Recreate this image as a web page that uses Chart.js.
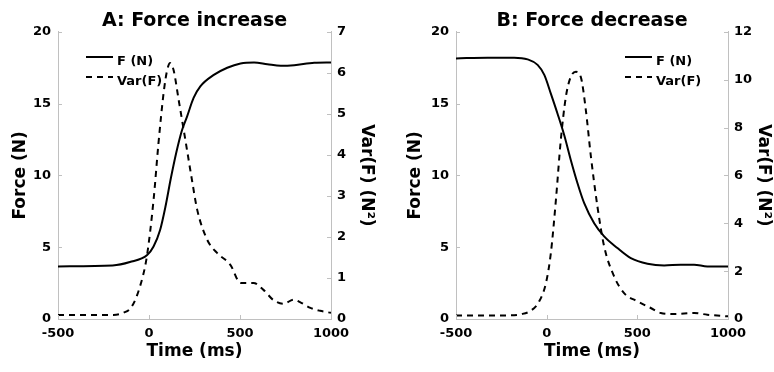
<!DOCTYPE html>
<html>
<head>
<meta charset="utf-8">
<script src="https://cdn.jsdelivr.net/npm/chart.js@4"></script>
<style>
    body { margin: 0; background: #fff; }
    .panel { position: absolute; top: 0; width: 387px; height: 372px; }
</style>
</head>
<body>
<div class="panel" style="left:0"><canvas id="chartA" width="387" height="372"></canvas></div>
<div class="panel" style="left:387px"><canvas id="chartB" width="387" height="372"></canvas></div>
<script>
// A: force increase
const timeA_force = [-500, -200, -105, -10, 25, 61, 90, 120, 150, 180, 209, 245, 282, 356, 430, 503, 577, 650, 724, 798, 908, 1000];
const forceA = [3.66, 3.73, 3.97, 4.46, 5.05, 6.2, 7.8, 9.8, 11.6, 13.1, 14.1, 15.4, 16.2, 17.0, 17.5, 17.8, 17.87, 17.75, 17.64, 17.68, 17.85, 17.87];
const timeA_var = [-500, -196, -141, -95, -49, -12, 25, 52, 80, 98, 116, 135, 163, 200, 236, 265, 320, 374, 447, 503, 574, 629, 684, 739, 794, 834, 887, 940, 1000];
const varA = [0.1, 0.1, 0.15, 0.3, 0.8, 1.52, 2.9, 4.28, 5.5, 6.03, 6.24, 6.07, 5.34, 4.36, 3.39, 2.66, 1.93, 1.61, 1.32, 0.88, 0.88, 0.71, 0.46, 0.37, 0.47, 0.4, 0.27, 0.2, 0.15];

// B: force decrease
const timeB_force = [-500, -326, -179, -105, -50, -13, 23, 60, 97, 133, 170, 207, 262, 317, 390, 464, 556, 648, 739, 813, 886, 1000];
const forceB = [18.15, 18.2, 18.2, 18.08, 17.7, 17.0, 15.7, 14.3, 12.8, 11.08, 9.46, 8.07, 6.67, 5.75, 4.94, 4.24, 3.85, 3.73, 3.78, 3.78, 3.66, 3.66];
const timeB_var = [-500, -215, -142, -87, -41, -4, 23, 51, 78, 106, 133, 161, 188, 216, 244, 280, 317, 372, 427, 501, 574, 629, 703, 813, 886, 1000];
const varB = [0.15, 0.15, 0.2, 0.35, 0.74, 1.5, 2.75, 4.98, 7.48, 9.29, 10.12, 10.33, 10.12, 8.73, 6.79, 4.7, 3.03, 1.78, 1.08, 0.74, 0.46, 0.25, 0.21, 0.25, 0.18, 0.11];

const xTicks = [-500, 0, 500, 1000];
const legendLabels = ['F (N)', 'Var(F)'];

const FONT = 'DejaVu Sans';
const AXIS_GRAY = '#c0c0c0';

function toPoints(xs, ys) {
    return xs.map((x, i) => ({ x: x, y: ys[i] }));
}

// MATLAB style ticks pointing into the plot
const inwardTicks = {
    id: 'inwardTicks',
    afterDraw(chart) {
        const ctx = chart.ctx;
        const area = chart.chartArea;
        const len = 4;
        ctx.save();
        ctx.strokeStyle = AXIS_GRAY;
        ctx.lineWidth = 1;
        ctx.beginPath();
        Object.values(chart.scales).forEach(scale => {
            scale.ticks.forEach(t => {
                const p = Math.round(scale.getPixelForValue(t.value)) + 0.5;
                if (scale.position === 'bottom') {
                    ctx.moveTo(p, area.bottom);
                    ctx.lineTo(p, area.bottom - len);
                } else if (scale.position === 'left') {
                    ctx.moveTo(area.left, p);
                    ctx.lineTo(area.left + len, p);
                } else {
                    ctx.moveTo(area.right, p);
                    ctx.lineTo(area.right - len, p);
                }
            });
        });
        ctx.stroke();
        ctx.restore();
    }
};

const lineLegend = {
    id: 'lineLegend',
    afterDraw(chart, args, opts) {
        const ctx = chart.ctx;
        ctx.save();
        ctx.font = 'bold 13px ' + FONT;
        ctx.textBaseline = 'middle';
        ctx.fillStyle = '#000';
        chart.data.datasets.forEach((ds, i) => {
            const y = opts.y + i * 20;
            ctx.strokeStyle = ds.borderColor;
            ctx.lineWidth = ds.borderWidth;
            ctx.setLineDash(ds.borderDash || []);
            ctx.beginPath();
            ctx.moveTo(opts.x, y);
            ctx.lineTo(opts.x + 27, y);
            ctx.stroke();
            ctx.fillText(ds.label, opts.x + 31, y + 5);
        });
        ctx.restore();
    }
};

function makeChart(id, cfg) {
    const ctx = document.getElementById(id).getContext('2d');
    return new Chart(ctx, {
        type: 'line',
        data: {
            datasets: [{
                label: legendLabels[0],
                data: toPoints(cfg.tForce, cfg.force),
                yAxisID: 'yL',
                borderColor: '#000',
                borderWidth: 2,
                pointRadius: 0,
                cubicInterpolationMode: 'monotone'
            }, {
                label: legendLabels[1],
                data: toPoints(cfg.tVar, cfg.vari),
                yAxisID: 'yR',
                borderColor: '#000',
                borderWidth: 2,
                borderDash: [6, 5],
                pointRadius: 0,
                cubicInterpolationMode: 'monotone'
            }]
        },
        options: {
            responsive: false,
            animation: false,
            layout: { padding: 0 },
            plugins: {
                legend: { display: false },
                tooltip: { enabled: false },
                title: {
                    display: true,
                    text: cfg.title,
                    color: '#000',
                    fullSize: false,
                    font: { family: FONT, size: 19, weight: 'bold', lineHeight: 1.15 },
                    padding: { top: 10, bottom: 0 }
                },
                lineLegend: cfg.legend
            },
            scales: {
                x: {
                    type: 'linear',
                    min: -500,
                    max: 1000,
                    afterBuildTicks: scale => { scale.ticks = xTicks.map(v => ({ value: v })); },
                    afterFit: scale => { scale.height = 53; },
                    border: { color: AXIS_GRAY, width: 1 },
                    grid: { drawOnChartArea: false, drawTicks: false },
                    ticks: {
                        color: '#000',
                        padding: 7,
                        maxRotation: 0,
                        font: { family: FONT, size: 13, weight: 'bold' },
                        callback: v => String(v)
                    },
                    title: {
                        display: true,
                        text: 'Time (ms)',
                        color: '#000',
                        font: { family: FONT, size: 17, weight: 'bold' },
                        padding: { top: 0, bottom: 10 }
                    }
                },
                yL: {
                    position: 'left',
                    min: 0,
                    max: 20,
                    afterFit: scale => { scale.width = cfg.leftWidth; },
                    border: { color: AXIS_GRAY, width: 1 },
                    grid: { drawOnChartArea: false, drawTicks: false },
                    ticks: {
                        stepSize: 5,
                        color: '#000',
                        padding: 7,
                        font: { family: FONT, size: 13, weight: 'bold' }
                    },
                    title: {
                        display: true,
                        text: 'Force (N)',
                        color: '#000',
                        font: { family: FONT, size: 17, weight: 'bold' },
                        padding: { top: cfg.leftTitlePad, bottom: 0 }
                    }
                },
                yR: {
                    position: 'right',
                    min: 0,
                    max: cfg.varMax,
                    afterFit: scale => { scale.width = cfg.rightWidth; },
                    border: { color: AXIS_GRAY, width: 1 },
                    grid: { drawOnChartArea: false, drawTicks: false },
                    ticks: {
                        stepSize: cfg.varStep,
                        color: '#000',
                        padding: 6,
                        font: { family: FONT, size: 13, weight: 'bold' }
                    },
                    title: {
                        display: true,
                        text: 'Var(F) (N\u00b2)',
                        color: '#000',
                        font: { family: FONT, size: 17, weight: 'bold' },
                        padding: { top: cfg.rightTitlePad, bottom: 0 }
                    }
                }
            }
        },
        plugins: [inwardTicks, lineLegend]
    });
}

makeChart('chartA', {
    title: 'A: Force increase',
    tForce: timeA_force, force: forceA,
    tVar: timeA_var, vari: varA,
    varMax: 7, varStep: 1,
    leftWidth: 58, rightWidth: 56,
    leftTitlePad: 10, rightTitlePad: 10,
    legend: { x: 86, y: 57 }
});

makeChart('chartB', {
    title: 'B: Force decrease',
    tForce: timeB_force, force: forceB,
    tVar: timeB_var, vari: varB,
    varMax: 12, varStep: 2,
    leftWidth: 69, rightWidth: 46,
    leftTitlePad: 18, rightTitlePad: 0,
    legend: { x: 238, y: 57 }
});
</script>
</body>
</html>
